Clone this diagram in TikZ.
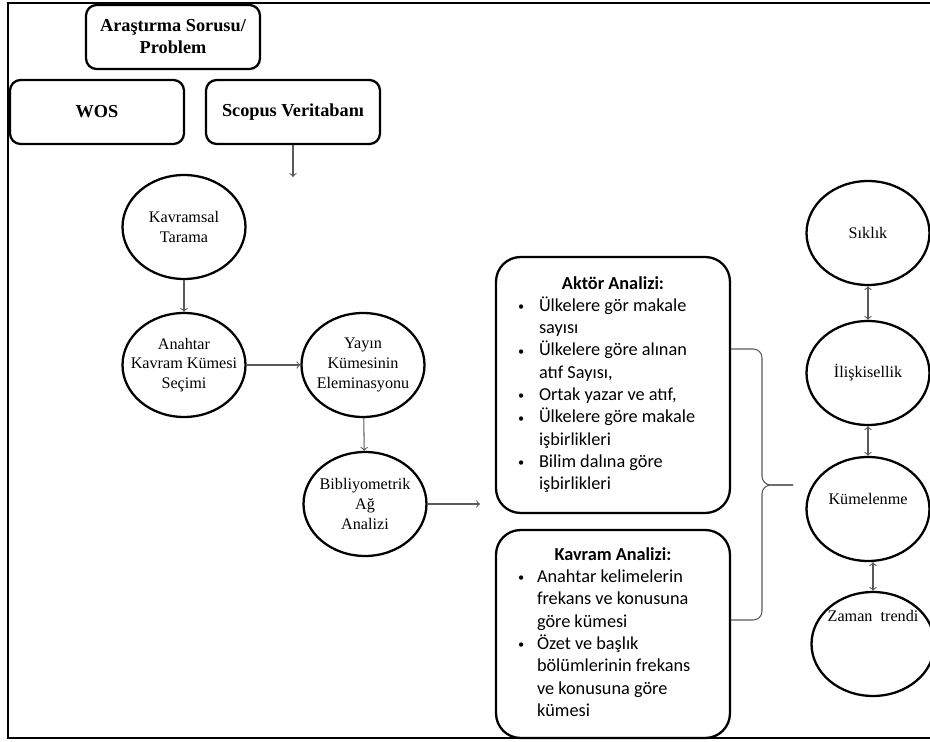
\documentclass[tikz,border=0pt]{standalone}
\usepackage{fontspec}
\setmainfont{Liberation Serif}
\newfontfamily\calibri{Carlito}
\usepackage{array}
\usetikzlibrary{shapes.geometric}
\tikzset{
    roundbox/.style={draw, line width=1.3pt, rounded corners=6pt,
        minimum width=3.48cm, minimum height=1.28cm, inner sep=0pt, align=center,
        font=\fontsize{10.4pt}{12.5pt}\selectfont\bfseries},
    bubble/.style={draw, ellipse, line width=1.3pt, minimum width=2.46cm,
        minimum height=2.08cm, inner sep=-0.22cm, align=center,
        font=\fontsize{9.2pt}{11.3pt}\selectfont},
    listbox/.style={draw, line width=1.3pt, rounded corners=14pt,
        minimum width=4.68cm, inner sep=0pt,
        font=\calibri\fontsize{10.4pt}{12.7pt}\selectfont},
    flow/.style={->, draw=black!65, line width=0.6pt},
    bothflow/.style={<->, draw=black!65, line width=0.6pt},
}
\newcommand{\blt}{\hspace{0.1cm}\raisebox{0.4pt}{\fontsize{7pt}{7pt}\selectfont\textbullet}}
\newcommand{\listhead}[1]{\multicolumn{2}{c}{\bfseries #1}}

\begin{document}
\begin{tikzpicture}[x=0.02cm, y=-0.02cm]
\useasboundingbox (0,0) rectangle (930,742);
\draw[line width=1pt] (8,3) rectangle (945,738);

\node[roundbox] (soru) at (173,37) {Araştırma Sorusu/\\Problem};
\node[roundbox] (wos) at (97,112) {WOS};
\node[roundbox] (scopus) at (293,112) {Scopus Veritabanı};
\coordinate (scopusend) at (293,177);

\node[bubble] (tarama) at (184,227) {Kavramsal\\Tarama};
\node[bubble] (secim) at (184,365) {Anahtar\\Kavram Kümesi\\Seçimi};
\node[bubble] (elem) at (363,365) {Yayın\\Kümesinin\\Eleminasyonu};
\node[bubble] (ag) at (365,504) {Bibliyometrik\\Ağ\\Analizi};
\coordinate (agend) at (480,504);

\node[listbox, minimum height=5.12cm] (aktor) at (613,385) {%
\begin{tabular}{@{}p{0.52cm}@{}p{3.48cm}@{}}
\listhead{Aktör Analizi:}\\
\blt & Ülkelere gör makale\\
     & sayısı\\
\blt & Ülkelere göre alınan\\
     & atıf Sayısı,\\
\blt & Ortak yazar ve atıf,\\
\blt & Ülkelere göre makale\\
     & işbirlikleri\\
\blt & Bilim dalına göre\\
     & işbirlikleri
\end{tabular}};
\node[listbox, minimum height=4.16cm] (kavram) at (613,634) {%
\begin{tabular}{@{}p{0.48cm}@{}p{3.52cm}@{}}
\listhead{Kavram Analizi:}\\
\blt & Anahtar kelimelerin\\
     & frekans ve konusuna\\
     & göre kümesi\\
\blt & Özet ve başlık\\
     & bölümlerinin frekans\\
     & ve konusuna göre\\
     & kümesi
\end{tabular}};

\node[bubble] (siklik) at (868,233) {Sıklık};
\node[bubble] (iliski) at (868,373) {İlişkisellik};
\node[bubble, text height=0.2cm, text depth=0.36cm] (kume) at (868,509) {Kümelenme};
\node[bubble, text height=0.2cm, text depth=1.12cm] (zaman) at (873,644) {Zaman\ \ trendi};

\draw[flow] (scopus.south) -- (scopusend);
\draw[flow] (tarama) -- (secim);
\draw[flow] (secim) -- (elem);
\draw[flow] (elem) -- (ag);
\draw[flow] (ag) -- (agend);

\draw[black!65, line width=0.6pt, rounded corners=5pt] (731,349) -| (762,485) -- (793,485);
\draw[black!65, line width=0.6pt, rounded corners=5pt] (793,485) -| (762,620) -- (731,620);

\draw[bothflow] (siklik) -- (iliski);
\draw[bothflow] (iliski) -- (kume);
\draw[bothflow] (kume.south -| zaman.north) -- (zaman.north);
\end{tikzpicture}
\end{document}
